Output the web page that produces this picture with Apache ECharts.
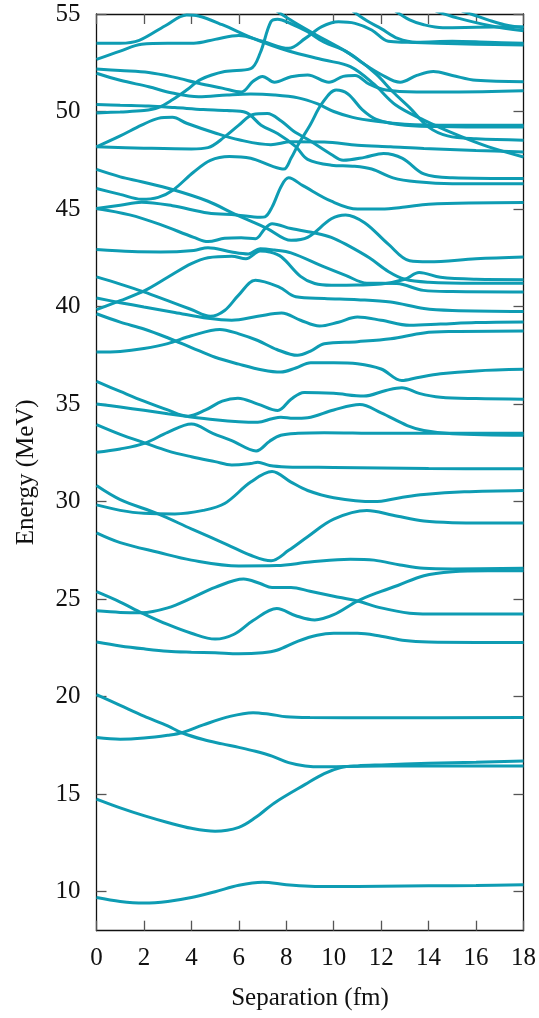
<!DOCTYPE html>
<html><head><meta charset="utf-8">
<script src="https://cdn.jsdelivr.net/npm/echarts@6/dist/echarts.min.js"></script>
<style>html,body{margin:0;padding:0;background:#fff}#c{width:539px;height:1018px}</style>
</head><body><div id="c"></div>
<script>
// x = separation (fm), y = energy (MeV)
const xTicks = [0,2,4,6,8,10,12,14,16,18];
const yTicks = [10,15,20,25,30,35,40,45,50,55];

const level01 = [[0,9.7],[1,9.5],[2,9.42],[3,9.5],[4,9.7],[5,10.0],[6,10.33],[7,10.48],[8,10.36],[9,10.28],[10,10.26],[12,10.28],[14,10.3],[16,10.32],[18,10.35]];
const level02 = [[0,14.75],[1,14.3],[2,13.9],[3,13.55],[4,13.25],[5,13.1],[6,13.3],[6.7,13.8],[7.5,14.55],[8.8,15.5],[9.6,16.05],[10.3,16.36],[11,16.45],[12,16.5],[14,16.58],[16,16.64],[18,16.7]];
const level03 = [[0,20.1],[1,19.55],[2,19.0],[3,18.5],[3.6,18.15],[4.5,17.8],[5.3,17.58],[6,17.4],[6.7,17.2],[7.4,16.95],[8.1,16.62],[8.8,16.45],[9.5,16.4],[10.5,16.42],[12,16.44],[18,16.45]];
const level04 = [[0,17.9],[1,17.82],[2,17.88],[3,18.02],[3.6,18.15],[4.5,18.55],[5.5,18.95],[6.6,19.18],[7.3,19.1],[8,18.97],[9,18.93],[12,18.92],[18,18.93]];
const level05 = [[0,22.8],[1,22.6],[2,22.45],[3,22.33],[4,22.28],[5,22.25],[6,22.2],[7,22.25],[7.6,22.38],[8.5,22.85],[9.3,23.15],[10,23.25],[11,23.25],[12,23.1],[13,22.88],[14,22.8],[16,22.78],[18,22.78]];
const level06 = [[0,24.4],[1,24.32],[1.9,24.3],[3,24.55],[4,25.05],[5,25.6],[6.2,26.03],[6.9,25.8],[7.4,25.6],[8.2,25.6],[9,25.4],[10,25.15],[11,24.9],[12,24.55],[13.2,24.28],[14,24.24],[18,24.24]];
const level07 = [[0,25.38],[1,24.85],[1.9,24.3],[3,23.7],[4,23.25],[5,22.95],[5.8,23.2],[6.6,23.9],[7.6,24.52],[8.4,24.15],[9.2,23.93],[10,24.2],[11,24.9],[12,25.4],[12.7,25.7],[13.8,26.2],[15,26.4],[16.5,26.45],[18,26.45]];
const level08 = [[0,28.4],[1,27.9],[2.6,27.4],[4,27.0],[6,26.7],[7.6,26.72],[9,26.9],[10.7,27.05],[11.7,27.0],[12.8,26.75],[13.8,26.58],[15,26.55],[18,26.58]];
const level09 = [[0,30.82],[1,30.1],[2.6,29.37],[4,28.6],[5.5,27.8],[6.5,27.25],[7.36,26.97],[8.1,27.5],[8.9,28.2],[10,29.1],[11.4,29.54],[12.5,29.3],[13.8,29.0],[15,28.92],[18,28.9]];
const level10 = [[0,29.83],[1,29.55],[2,29.4],[3.3,29.37],[4.5,29.55],[5.4,29.9],[6.5,31.0],[7.4,31.54],[8.2,31.0],[8.9,30.57],[10,30.2],[11.7,30.0],[12.8,30.2],[13.8,30.36],[15.5,30.5],[18,30.57]];
const level11 = [[0,32.53],[1,32.7],[2.05,33.0],[3,33.55],[4,33.98],[4.9,33.5],[5.7,33.13],[6.73,32.6],[7.3,33.1],[7.77,33.4],[8.5,33.5],[9.6,33.53],[12,33.5],[18,33.5]];
const level12 = [[0,33.95],[1,33.45],[2.05,33.0],[3,32.6],[4,32.3],[5,32.05],[5.7,31.88],[6.5,31.95],[6.8,32.02],[7.3,31.85],[8,31.78],[10,31.75],[14,31.7],[18,31.68]];
const level13 = [[0,35.01],[1,34.85],[2,34.68],[3,34.5],[3.86,34.36],[5,34.2],[6,34.1],[6.8,34.07],[7.4,34.25],[7.77,34.33],[8.3,34.27],[8.9,34.3],[10,34.7],[11.1,34.98],[12,34.55],[13.1,33.9],[13.8,33.65],[15,33.48],[18,33.4]];
const level14 = [[0,36.16],[1,35.65],[2,35.15],[3,34.7],[3.86,34.38],[4.6,34.7],[5.3,35.15],[5.96,35.3],[6.8,35.0],[7.64,34.67],[8.2,35.25],[8.75,35.6],[10,35.55],[11.27,35.41],[12.2,35.7],[12.87,35.84],[13.6,35.55],[14.5,35.35],[16,35.28],[18,35.25]];
const level15 = [[0,39.63],[1,39.2],[2,38.85],[3,38.4],[4,37.9],[5,37.4],[6,37.05],[7,36.75],[7.77,36.64],[8.4,36.85],[9.03,37.12],[10,37.12],[11,37.07],[12,36.8],[12.87,36.21],[13.5,36.35],[14.5,36.55],[16,36.7],[18,36.78]];
const level16 = [[0,37.67],[1,37.7],[2,37.85],[3,38.1],[4,38.5],[5.2,38.83],[6,38.6],[6.8,38.26],[7.6,37.8],[8.47,37.5],[9,37.7],[9.6,38.09],[11,38.2],[12.4,38.35],[13.8,38.65],[15,38.72],[18,38.75]];
const level17 = [[0,40.44],[1,40.2],[2,39.98],[3.3,39.7],[4.7,39.4],[5.7,39.3],[6.8,39.5],[7.8,39.67],[8.6,39.3],[9.4,39.0],[10.2,39.2],[11,39.46],[12,39.3],[13.2,39.04],[14.5,39.1],[16,39.18],[18,39.21]];
const level18 = [[0,41.52],[1,41.15],[2,40.75],[3,40.3],[4,39.85],[4.8,39.5],[5.4,39.8],[6,40.6],[6.7,41.35],[7.7,41.0],[8.4,40.5],[9.6,40.41],[11,40.35],[12.4,40.23],[13.8,39.9],[15,39.8],[18,39.75]];
const level19 = [[0,39.84],[1,40.3],[2.05,40.83],[3,41.5],[4,42.2],[4.7,42.5],[5.7,42.58],[6.3,42.45],[6.9,42.85],[7.3,42.8],[7.8,42.54],[8.6,41.55],[9.2,41.18],[9.9,41.09],[11,41.1],[12,41.15],[13,41.4],[13.6,41.75],[14.5,41.5],[16,41.4],[18,41.38]];
const level20 = [[0,42.92],[1.5,42.82],[2.7,42.8],[4.1,42.88],[4.7,43.02],[5.7,42.8],[6.4,42.7],[6.9,42.97],[7.5,42.9],[8.2,42.75],[9.6,42.03],[10.5,41.6],[11.4,41.2],[12.66,41.18],[13.78,40.83],[15,40.77],[18,40.75]];
const level21 = [[0,45.03],[1.4,44.7],[2.7,44.2],[4.1,43.55],[4.7,43.33],[5.4,43.5],[6.1,43.53],[6.7,43.48],[7.1,44.0],[7.4,44.25],[8.2,44.0],[9.3,43.75],[9.9,43.55],[10.5,43.2],[11.5,42.5],[12.3,41.8],[13,41.4],[14,41.25],[16,41.2],[18,41.2]];
const level22 = [[0,45.03],[1,45.2],[1.9,45.35],[3.2,45.17],[4.7,44.8],[5.9,44.7],[6.9,44.58],[7.1,44.6],[7.4,45.1],[7.8,46.2],[8.1,46.6],[8.7,46.2],[9.9,45.4],[11,45.0],[12,45.0],[13,45.1],[14,45.25],[18,45.33]];
const level23 = [[0,47.03],[1,46.65],[1.9,46.4],[3.2,46.0],[4.7,45.4],[5.9,44.7],[7.2,44.0],[8.2,43.4],[8.9,43.55],[9.9,44.5],[10.5,44.7],[11.3,44.3],[12.3,43.2],[13.2,42.35],[14,42.3],[16,42.45],[18,42.54]];
const level24 = [[0,46.05],[1,45.75],[1.9,45.5],[2.6,45.6],[3.2,45.95],[4.1,46.9],[4.8,47.5],[5.6,47.7],[6.5,47.6],[7.4,47.2],[7.9,47.05],[8.2,47.6],[8.5,48.3],[9,49.3],[9.5,50.4],[10.1,51.1],[10.6,50.9],[11.2,50.1],[11.8,49.6],[13,49.3],[15,49.22],[18,49.2]];
const level25 = [[0,48.19],[1,48.75],[1.9,49.3],[2.6,49.65],[3.2,49.7],[3.8,49.4],[5,48.9],[6,48.55],[7.35,48.3],[8.2,48.45],[9.6,48.44],[11,48.27],[12.4,48.19],[13.8,48.1],[16,48.0],[18,47.93]];
const level26 = [[0,48.19],[2,48.12],[4,48.08],[4.7,48.15],[5.4,48.7],[6,49.3],[6.6,49.85],[7.2,49.9],[7.8,49.5],[8.3,49.0],[9,48.5],[9.9,47.8],[10.4,47.5],[11.3,47.65],[12.1,47.85],[12.9,47.6],[13.8,46.8],[15,46.6],[18,46.56]];
const level27 = [[0,50.36],[1,50.32],[2.2,50.28],[3.3,50.2],[4.5,50.1],[5.5,50.05],[6.3,49.95],[6.94,49.3],[7.63,48.87],[8.4,48.2],[8.9,47.55],[9.9,47.25],[10.8,47.2],[11.6,47.05],[12.5,46.6],[13.5,46.4],[15,46.3],[18,46.3]];
const level28 = [[0,51.96],[1,51.6],[2.2,51.27],[3.2,50.95],[4.3,50.76],[5.5,50.85],[6.5,50.9],[7.5,50.85],[8.5,50.7],[9.3,50.4],[10,50.0],[10.8,49.7],[11.8,49.5],[13,49.35],[15,49.3],[18,49.3]];
const level29 = [[0,52.18],[1,52.1],[2.2,52.0],[3.3,51.75],[4.3,51.45],[5.3,51.2],[6.1,51.0],[6.6,51.55],[7.0,51.8],[7.5,51.5],[8.2,51.78],[8.9,51.87],[9.8,51.5],[10.4,51.8],[10.9,51.85],[11.5,51.4],[12.2,51.1],[13.5,51.0],[15,51.0],[18,51.06]];
const level30 = [[0,49.93],[1,49.98],[2,50.05],[2.6,50.2],[3.2,50.6],[3.8,51.1],[4.4,51.65],[5.4,52.05],[6.5,52.2],[6.9,53.0],[7.35,54.6],[7.63,54.73],[8.2,54.5],[8.9,54.09],[9.6,53.55],[10.5,53.1],[11.2,52.5],[12,51.9],[12.8,51.5],[13.5,51.85],[14.2,52.05],[15,51.85],[16,51.6],[18,51.53]];
const level31 = [[0,53.5],[1,53.5],[1.8,53.65],[2.9,54.4],[3.8,54.95],[4.3,54.9],[5.3,54.45],[6.7,53.7],[8.1,53.1],[9.6,52.64],[10.7,52.3],[11.7,51.4],[12.6,50.35],[13.8,49.56],[15.2,48.8],[16.5,48.2],[18,47.67]];
const level32 = [[0,52.67],[1,53.1],[1.9,53.45],[3,53.5],[4.1,53.5],[5,53.7],[6,53.9],[7,53.6],[8.1,53.24],[8.8,53.75],[9.5,54.35],[10.2,54.6],[10.9,54.52],[11.6,54.18],[12.3,53.6],[13.1,53.55],[14.4,53.5],[16,53.45],[18,53.41]];
const level33 = [[7.6,55.15],[8.3,54.6],[9.3,53.9],[10.2,53.3],[11,52.7],[11.8,51.9],[12.5,51.0],[13.2,50.2],[14,49.2],[14.8,48.75],[16,48.6],[18,48.53]];
const level34 = [[10.8,55.15],[11.4,54.65],[12,54.25],[12.7,53.75],[13.5,53.55],[15,53.6],[16.5,53.55],[18,53.5]];
const level35 = [[12.6,55.15],[13.2,54.7],[13.8,54.45],[14.6,54.3],[16,54.32],[18,54.35]];
const level36 = [[14.3,55.15],[15.2,54.8],[16.6,54.4],[18,54.14]];
const level37 = [[15.4,55.15],[15.9,54.95],[16.5,54.7],[17.2,54.45],[18,54.3]];

const levels = [level01,level02,level03,level04,level05,level06,level07,level08,level09,level10,
  level11,level12,level13,level14,level15,level16,level17,level18,level19,level20,
  level21,level22,level23,level24,level25,level26,level27,level28,level29,level30,
  level31,level32,level33,level34,level35,level36,level37];

const FONT = 'Liberation Serif';
const LINE = '#0e9cb3';
const chart = echarts.init(document.getElementById('c'), null, {renderer:'canvas'});
const tickStyle = {show:true, inside:true, length:10, lineStyle:{color:'#555', width:1.3}};
const frame = {show:true, onZero:false, lineStyle:{color:'#111', width:1.3}};
chart.setOption({
  animation:false,
  backgroundColor:'#fff',
  grid:{left:96.5, right:13, top:14, bottom:87.3, containLabel:false},
  xAxis:[
    {type:'value', min:0, max:18, interval:2, position:'bottom',
     axisLine:frame, axisTick:tickStyle, splitLine:{show:false},
     axisLabel:{fontFamily:FONT, fontSize:25, color:'#111', margin:15},
     name:'Separation (fm)', nameLocation:'middle', nameGap:55,
     nameTextStyle:{fontFamily:FONT, fontSize:25, color:'#111'}},
    {type:'value', min:0, max:18, interval:2, position:'top',
     axisLine:frame, axisTick:tickStyle, splitLine:{show:false}, axisLabel:{show:false}}
  ],
  yAxis:[
    {type:'value', min:8, max:55, position:'left',
     axisLine:frame, axisTick:Object.assign({customValues:yTicks}, tickStyle), splitLine:{show:false},
     axisLabel:{fontFamily:FONT, fontSize:25, color:'#111', margin:16, customValues:yTicks},
     name:'Energy (MeV)', nameLocation:'middle', nameGap:58,
     nameTextStyle:{fontFamily:FONT, fontSize:25, color:'#111'}},
    {type:'value', min:8, max:55, position:'right',
     axisLine:frame, axisTick:Object.assign({customValues:yTicks}, tickStyle), splitLine:{show:false}, axisLabel:{show:false}}
  ],
  series: levels.map(d => ({
    type:'line', data:d, xAxisIndex:0, yAxisIndex:0, smooth:0.35,
    showSymbol:false, symbol:'none', clip:true, silent:true,
    lineStyle:{color:LINE, width:3}
  }))
});
</script></body></html>
